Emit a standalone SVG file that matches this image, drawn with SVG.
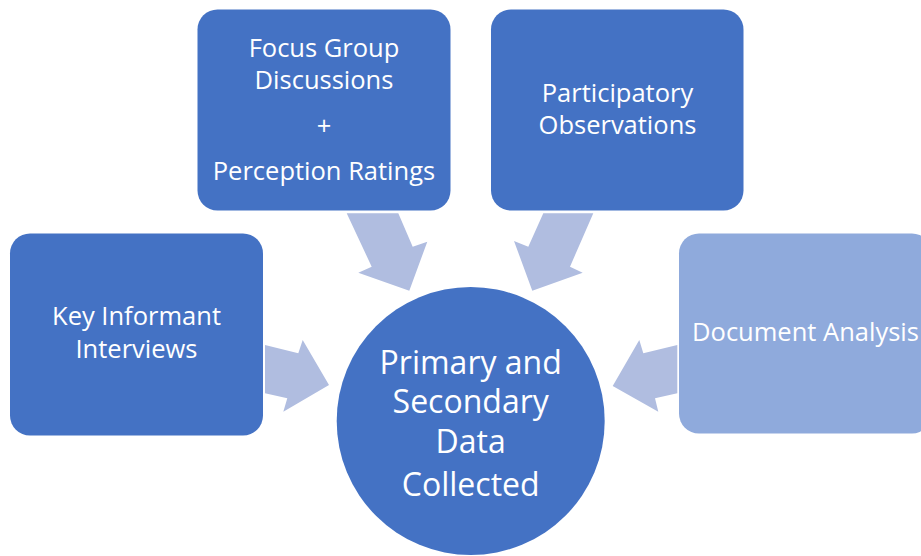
<svg xmlns="http://www.w3.org/2000/svg" width="921" height="556" viewBox="0 0 921 556">
<style>
.box{fill:#4472C4}
.box2{fill:#8FAADC}
.arr{fill:#B0BDE0}
.t{font-family:"Open Sans","Liberation Sans",sans-serif;font-size:25.5px;fill:#FFFFFF;text-anchor:middle}
.tc{font-family:"Open Sans","Liberation Sans",sans-serif;font-size:32px;fill:#FFFFFF;text-anchor:middle}
</style>
<rect width="921" height="556" fill="#FFFFFF"/>
<g id="connectors">
<polygon class="arr" points="346.7,213.3 398.3,213.3 412.7,246.7 427.3,241.7 409.3,290.7 358.3,272.7 371.7,266.7"/>
<polygon class="arr" points="543.3,213.3 593.3,213.3 570,266.7 582.7,272.7 532.3,290.7 514,241 528.3,246.7"/>
<polygon class="arr" points="265,345 298.3,353.3 302.7,340 329,385 283.3,411.7 287.3,398.3 265,393.3"/>
<polygon class="arr" points="677.3,345 643.3,353.3 639.3,340 612.7,386 658.3,411.7 655,398.3 677.3,393.3"/>
</g>
<g id="node-focus">
<rect class="box" x="197.5" y="9.5" width="253" height="201" rx="20"/>
<text class="t" x="324" y="57">Focus Group</text>
<text class="t" x="324" y="89">Discussions</text>
<text class="t" x="324" y="135">+</text>
<text class="t" x="324" y="180">Perception Ratings</text>
</g>
<g id="node-participatory">
<rect class="box" x="491" y="9.5" width="252.5" height="201" rx="20"/>
<text class="t" x="617.5" y="102">Participatory</text>
<text class="t" x="617.5" y="133.5">Observations</text>
</g>
<g id="node-key">
<rect class="box" x="10" y="233.5" width="253" height="202" rx="20"/>
<text class="t" x="136.5" y="325">Key Informant</text>
<text class="t" x="136.5" y="357.5">Interviews</text>
</g>
<g id="node-document">
<rect class="box2" x="679" y="233.5" width="253" height="200" rx="20"/>
<text class="t" x="805.5" y="341">Document Analysis</text>
</g>
<g id="node-center">
<circle class="box" cx="470.7" cy="421" r="134"/>
<text class="tc" x="470.7" y="373.5">Primary and</text>
<text class="tc" x="470.7" y="413">Secondary</text>
<text class="tc" x="470.7" y="453">Data</text>
<text class="tc" x="470.7" y="496">Collected</text>
</g>
</svg>
